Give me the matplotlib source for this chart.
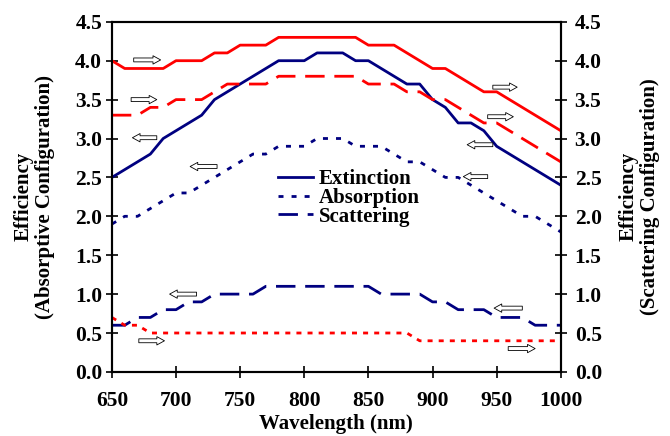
import numpy as np
import matplotlib
matplotlib.use("Agg")
import matplotlib.pyplot as plt

# -----------------------
# Data
# -----------------------
wavelength = np.arange(650, 1001, 10)

# absorptive configuration (left axis, blue)
abs_ext = [2.5, 2.6, 2.7, 2.8, 3.0, 3.1, 3.2, 3.3, 3.5, 3.6, 3.7, 3.8,
           3.9, 4.0, 4.0, 4.0, 4.1, 4.1, 4.1, 4.0, 4.0, 3.9, 3.8, 3.7,
           3.7, 3.5, 3.4, 3.2, 3.2, 3.1, 2.9, 2.8, 2.7, 2.6, 2.5, 2.4]
abs_abs = [1.9, 2.0, 2.0, 2.1, 2.2, 2.3, 2.3, 2.4, 2.5, 2.6, 2.7, 2.8,
           2.8, 2.9, 2.9, 2.9, 3.0, 3.0, 3.0, 2.9, 2.9, 2.9, 2.8, 2.7,
           2.7, 2.6, 2.5, 2.5, 2.4, 2.3, 2.2, 2.1, 2.0, 2.0, 1.9, 1.8]
abs_sca = [0.6, 0.6, 0.7, 0.7, 0.8, 0.8, 0.9, 0.9, 1.0, 1.0, 1.0, 1.0,
           1.1, 1.1, 1.1, 1.1, 1.1, 1.1, 1.1, 1.1, 1.1, 1.0, 1.0, 1.0,
           1.0, 0.9, 0.9, 0.8, 0.8, 0.8, 0.7, 0.7, 0.7, 0.6, 0.6, 0.6]

# scattering configuration (right axis, red)
sca_ext = [4.0, 3.9, 3.9, 3.9, 3.9, 4.0, 4.0, 4.0, 4.1, 4.1, 4.2, 4.2,
           4.2, 4.3, 4.3, 4.3, 4.3, 4.3, 4.3, 4.3, 4.2, 4.2, 4.2, 4.1,
           4.0, 3.9, 3.9, 3.8, 3.7, 3.6, 3.6, 3.5, 3.4, 3.3, 3.2, 3.1]
sca_abs = [3.3, 3.3, 3.3, 3.4, 3.4, 3.5, 3.5, 3.5, 3.6, 3.7, 3.7, 3.7,
           3.7, 3.8, 3.8, 3.8, 3.8, 3.8, 3.8, 3.8, 3.7, 3.7, 3.7, 3.6,
           3.6, 3.5, 3.5, 3.4, 3.3, 3.2, 3.2, 3.1, 3.0, 2.9, 2.8, 2.7]
sca_sca = [0.7, 0.6, 0.6, 0.5, 0.5, 0.5, 0.5, 0.5, 0.5, 0.5, 0.5, 0.5,
           0.5, 0.5, 0.5, 0.5, 0.5, 0.5, 0.5, 0.5, 0.5, 0.5, 0.5, 0.5,
           0.4, 0.4, 0.4, 0.4, 0.4, 0.4, 0.4, 0.4, 0.4, 0.4, 0.4, 0.4]

labels = ["Extinction", "Absorption", "Scattering"]

# open arrows telling which axis a curve belongs to: (tail x, head x, y)
arrows = [
    (667, 688, 4.01), (665, 685, 3.50), (671, 691, 0.40),
    (947, 966, 3.66), (943, 963, 3.28), (959, 980, 0.30),
    (685, 666, 3.01), (732, 711, 2.64), (716, 695, 1.00),
    (947, 927, 2.92), (943, 924, 2.51), (970, 948, 0.82),
]

# -----------------------
# Style
# -----------------------
plt.rcParams['font.family'] = ['Liberation Serif', 'DejaVu Serif']
plt.rcParams['font.weight'] = 'bold'
plt.rcParams['axes.labelweight'] = 'bold'

BLUE = '#000080'
RED = '#ff0000'
LW = 2.0
solid = '-'
dotted_b = (0, (1.8, 2.9))
dotted_r = (0, (1.8, 2.2))
longdash = (0, (7, 3.5))

fig = plt.figure(figsize=(6.7, 4.36), dpi=100)
ax = fig.add_axes([0.167, 0.147, 0.670, 0.803])
ax2 = ax.twinx()

l1, = ax.plot(wavelength, abs_ext, color=BLUE, lw=LW, ls=solid)
l2, = ax.plot(wavelength, abs_abs, color=BLUE, lw=LW, ls=dotted_b)
l3, = ax.plot(wavelength, abs_sca, color=BLUE, lw=LW, ls=longdash)

ax2.plot(wavelength, sca_ext, color=RED, lw=LW, ls=solid)
ax2.plot(wavelength, sca_abs, color=RED, lw=LW, ls=longdash)
ax2.plot(wavelength, sca_sca, color=RED, lw=LW, ls=dotted_r)

for a in (ax, ax2):
    a.set_xlim(650, 1000)
    a.set_ylim(0, 4.5)
    a.set_yticks(np.arange(0, 4.51, 0.5))
    a.yaxis.set_major_formatter(matplotlib.ticker.FormatStrFormatter('%.1f'))
    for s in a.spines.values():
        s.set_linewidth(1.5)
    a.tick_params(direction='inout', length=8, width=1.2, labelsize=15.5, pad=3)

ax.set_xticks(np.arange(650, 1001, 50))
ax.tick_params(axis='x', pad=10)
ax2.tick_params(axis='y', pad=6)
ax.set_xlabel("Wavelength (nm)", fontsize=15, labelpad=2)
ax.set_ylabel("Efficiency\n(Absorptive Configuration)", fontsize=15, labelpad=14,
              linespacing=1.1)
ax2.set_ylabel("Efficiency\n(Scattering Configuration)", fontsize=15, labelpad=12,
               linespacing=1.1)

for x0, x1, y in arrows:
    ax2.annotate("", xy=(x1, y), xytext=(x0, y),
                 arrowprops=dict(arrowstyle="simple,head_length=0.55,head_width=0.6,tail_width=0.28",
                                 mutation_scale=10, fc='white', ec='black', lw=0.6,
                                 shrinkA=0, shrinkB=0))

ax2.legend([l1, l2, l3], labels, loc='upper left', bbox_to_anchor=(0.37, 0.58),
           frameon=False, fontsize=15, handlelength=1.7, handletextpad=0.25,
           borderpad=0, borderaxespad=0, labelspacing=-0.05)

fig.savefig("out.png", dpi=100)
